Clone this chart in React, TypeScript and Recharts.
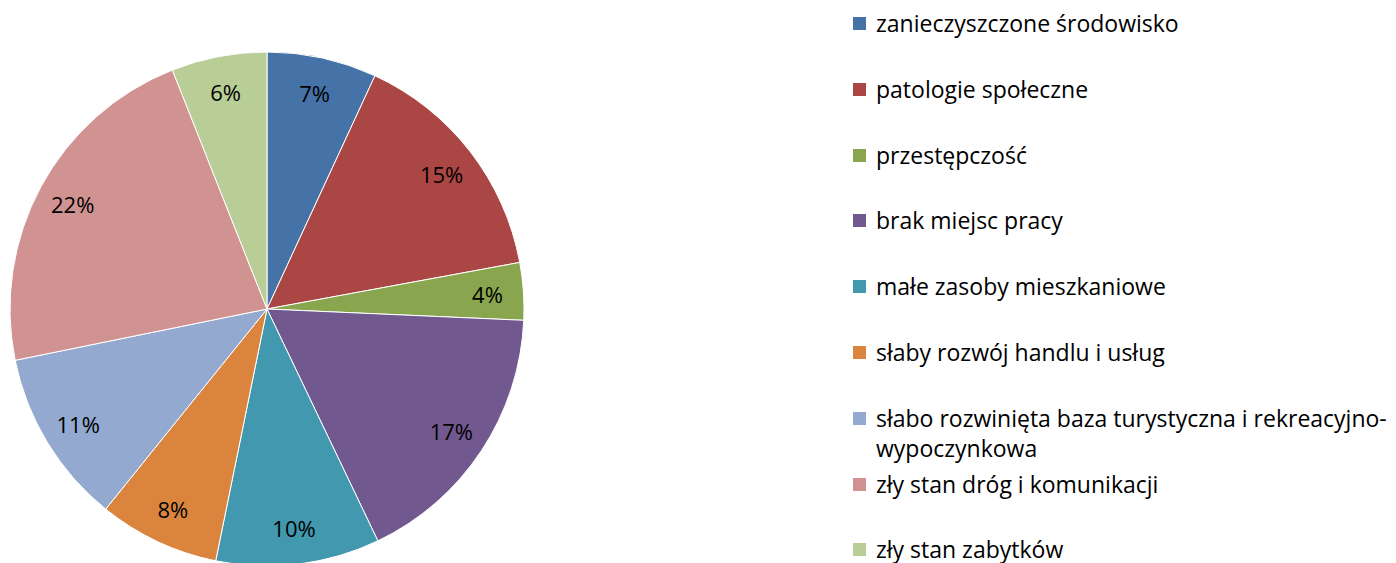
import React from "react";
import { PieChart, Pie, Cell, Legend } from "recharts";

const categories = [
  "zanieczyszczone środowisko",
  "patologie społeczne",
  "przestępczość",
  "brak miejsc pracy",
  "małe zasoby mieszkaniowe",
  "słaby rozwój handlu i usług",
  "słabo rozwinięta baza turystyczna i rekreacyjno-wypoczynkowa",
  "zły stan dróg i komunikacji",
  "zły stan zabytków",
];
const values = [6.9, 15.2, 3.6, 17.2, 10.3, 7.6, 11.0, 22.2, 6.0];
const colors = ["#4572A7", "#AA4643", "#89A54E", "#71588F", "#4198AF", "#DB843D", "#93A9CF", "#D19392", "#B9CD96"];

const data = categories.map((name, i) => ({ name, value: values[i] }));

const FONT = "'Open Sans', 'Noto Sans', sans-serif";
const RAD = Math.PI / 180;

const renderLabel = (props: any) => {
  const { cx, cy, midAngle, outerRadius, percent } = props;
  const r = outerRadius * 0.86;
  const x = cx + r * Math.cos(-midAngle * RAD);
  const y = cy + r * Math.sin(-midAngle * RAD);
  return (
    <text x={x} y={y} fill="#000" textAnchor="middle" dominantBaseline="central" fontSize={22} fontFamily={FONT}>
      {`${Math.round(percent * 100)}%`}
    </text>
  );
};

const renderLegend = () => {
  return (
    <div style={{ position: "relative", width: 540, height: 555, fontFamily: FONT, fontSize: 23, color: "#000" }}>
      {categories.map((name, i) => (
        <div
          key={name}
          style={{ position: "absolute", left: 0, top: i * 65.8, width: 540, display: "flex", alignItems: "flex-start" }}
        >
          <span style={{ display: "inline-block", width: 13, height: 13, background: colors[i], marginTop: 9, marginRight: 10, flexShrink: 0 }} />
          <span style={{ lineHeight: "30px", whiteSpace: "normal", width: 517 }}>{name}</span>
        </div>
      ))}
    </div>
  );
};

export default function App() {
  return (
    <PieChart width={1380} height={555} margin={{ top: 0, right: 0, bottom: 0, left: 0 }}>
      <Pie
        data={data}
        dataKey="value"
        nameKey="name"
        cx={259}
        cy={301}
        outerRadius={257}
        startAngle={90}
        endAngle={-270}
        stroke="#fff"
        strokeWidth={1}
        label={renderLabel}
        labelLine={false}
        isAnimationActive={false}
      >
        {data.map((d, i) => (
          <Cell key={d.name} fill={colors[i]} />
        ))}
      </Pie>
      <Legend
        layout="vertical"
        content={renderLegend}
        wrapperStyle={{ position: "absolute", left: 845, top: 0, width: 540, height: 555 }}
      />
    </PieChart>
  );
}
